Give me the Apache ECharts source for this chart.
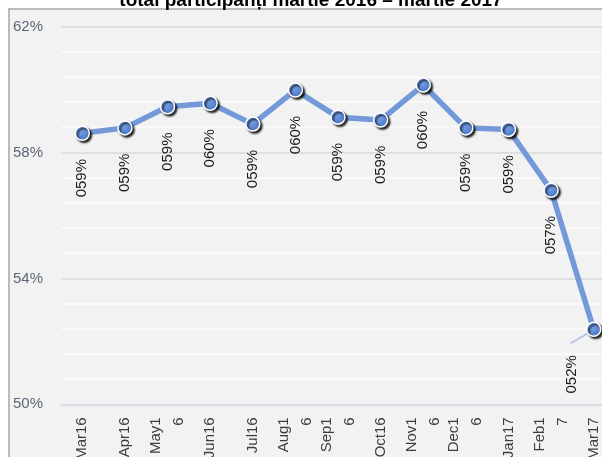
<!DOCTYPE html>
<html>
<head>
<meta charset="utf-8">
<title>total participanți martie 2016 – martie 2017</title>
<script src="https://cdn.jsdelivr.net/npm/echarts/dist/echarts.min.js"></script>
<style>
    html, body { margin: 0; padding: 0; background: #fff; overflow: hidden; }
    /* graficul original e taiat in dreapta, deci containerul e mai lat decat fereastra */
    #main { width: 615px; height: 457px; }
</style>
</head>
<body>
<div id="main"></div>
<script>
// luni (etichete axa X, asa cum apar in grafic)
let months = ['Mar16', 'Apr16', 'May1\n6', 'Jun16', 'Jul16', 'Aug1\n6', 'Sep1\n6',
    'Oct16', 'Nov1\n6', 'Dec1\n6', 'Jan17', 'Feb1\n7', 'Mar17'];
// valori (%)
let values = [58.61, 58.78, 59.45, 59.56, 58.90, 59.98, 59.12, 59.03, 60.14, 58.78, 58.73, 56.80, 52.38];
// etichetele de date
let valueLabels = ['059%', '059%', '059%', '060%', '059%', '060%', '059%', '059%', '060%', '059%', '059%', '057%', '052%'];
let titleText = 'total participanți martie 2016 – martie 2017';

let font = '"Liberation Sans", Arial, sans-serif';
let myChart = echarts.init(document.getElementById('main'));
let last = values.length - 1;

let seriesData = values.map((v, i) => {
    let item = { value: v };
    if (i === last) {
        // ultima eticheta e mutata la stanga (offset-ul e in sistemul rotit)
        item.label = { offset: [0, -22] };
    }
    return item;
});

option = {
    backgroundColor: '#fff',
    animation: false,
    grid: {
        left: 61,
        right: 0,
        top: 26.5,
        bottom: 52.7,
        outerBoundsMode: 'none'
    },
    xAxis: {
        type: 'category',
        data: months,
        boundaryGap: true,
        axisTick: { show: false },
        axisLine: { lineStyle: { color: '#d6dee8', width: 1.5 } },
        axisLabel: {
            interval: 0,
            rotate: 90,
            margin: 13,
            fontSize: 15,
            lineHeight: 23,
            fontFamily: font,
            color: '#3c3c3c'
        }
    },
    yAxis: {
        type: 'value',
        min: 50,
        max: 62,
        interval: 4,
        axisLine: { show: false },
        axisTick: { show: false },
        axisLabel: {
            formatter: '{value}%',
            align: 'left',
            margin: 48,
            fontSize: 15,
            fontFamily: font,
            color: '#5b6777'
        },
        splitLine: { lineStyle: { color: '#d9d9d9', width: 1.5 } },
        minorTick: { show: false, splitNumber: 5 },
        minorSplitLine: { show: true, lineStyle: { color: '#fbfbfb', width: 1.5 } }
    },
    series: [
        {
            name: 'total participanți',
            type: 'line',
            data: seriesData,
            symbol: 'circle',
            symbolSize: 14,
            lineStyle: { color: '#7499d8', width: 5.5 },
            itemStyle: {
                color: {
                    type: 'radial', x: 0.4, y: 0.35, r: 0.65,
                    colorStops: [
                        { offset: 0, color: '#7ba3e6' },
                        { offset: 1, color: '#4674c6' }
                    ]
                },
                borderColor: '#fff',
                borderWidth: 1.5,
                shadowColor: 'rgba(0,0,0,0.85)',
                shadowBlur: 2,
                shadowOffsetX: 2,
                shadowOffsetY: 2
            },
            label: {
                show: true,
                position: 'bottom',
                distance: 18,
                rotate: 90,
                align: 'right',
                verticalAlign: 'middle',
                fontSize: 15,
                fontFamily: font,
                color: '#1a1a1a',
                formatter: function(p) {
                    return valueLabels[p.dataIndex];
                }
            }
        }
    ]
};
myChart.setOption(option);

// fundalul gri, titlul si linia de legatura pentru ultima eticheta
let pt = myChart.convertToPixel({ seriesIndex: 0 }, [last, values[last]]);
myChart.setOption({
    graphic: [
        {
            type: 'rect',
            z: -10,
            silent: true,
            shape: { x: 9, y: 9, width: 620, height: 460 },
            style: { fill: '#f2f2f2', stroke: '#a6a6a6', lineWidth: 1.5 }
        },
        {
            type: 'text',
            x: 311,
            y: 10,
            style: {
                text: titleText,
                align: 'center',
                verticalAlign: 'bottom',
                font: 'bold 19px ' + font,
                fill: '#000'
            }
        },
        {
            type: 'line',
            silent: true,
            shape: { x1: pt[0] - 1, y1: pt[1] + 1, x2: pt[0] - 23, y2: pt[1] + 14 },
            style: { stroke: '#a9bde3', lineWidth: 1.5 }
        }
    ]
});
</script>
</body>
</html>
